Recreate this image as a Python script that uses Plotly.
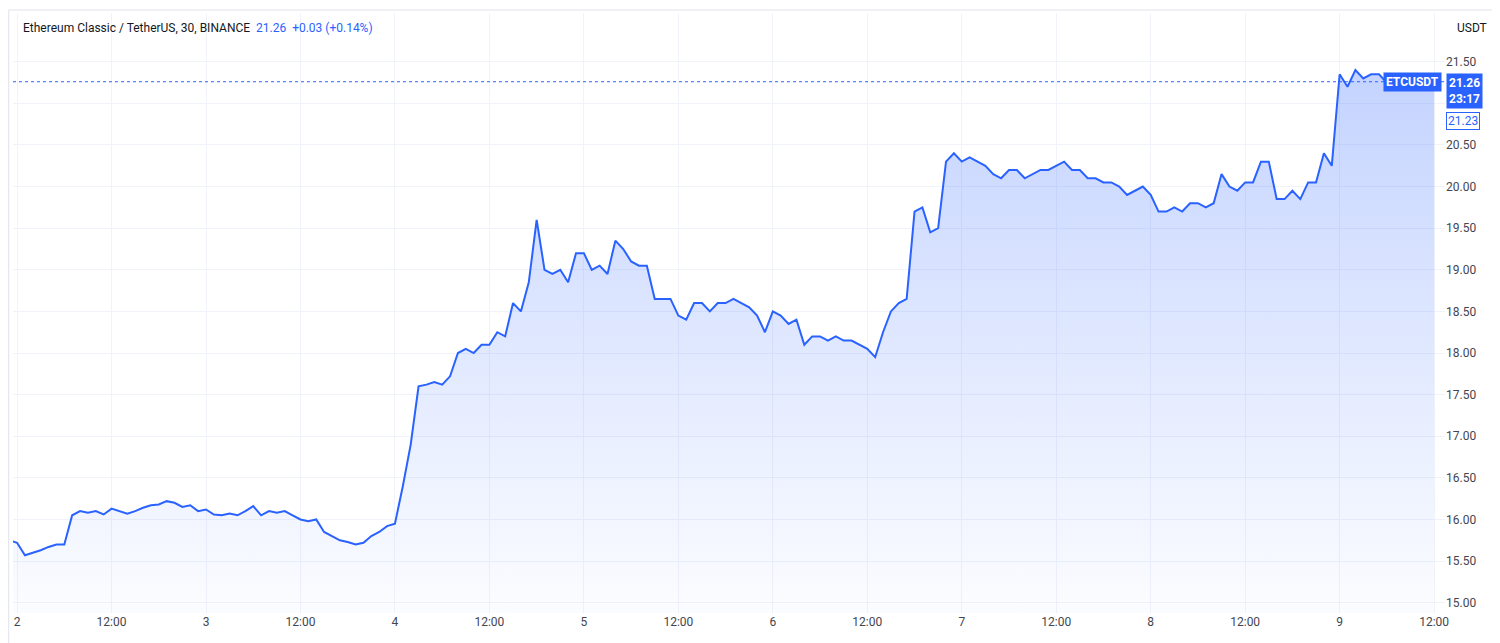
import plotly.graph_objects as go
import pandas as pd

start = pd.Timestamp("2022-08-01 23:00")
prices = [15.75,
 15.72,15.57,15.60,15.63,15.67,15.70,15.70,16.05,16.10,16.08,16.10,16.06,16.13,16.10,16.07,16.10,16.14,16.17,16.18,16.22,16.20,16.15,16.17,16.10,
 16.12,16.06,16.05,16.07,16.05,16.10,16.16,16.05,16.10,16.08,16.10,16.05,16.00,15.98,16.00,15.85,15.80,15.75,15.73,15.70,15.72,15.80,15.85,15.92,
 15.95,16.40,16.90,17.60,17.62,17.65,17.62,17.72,18.00,18.05,18.00,18.10,18.10,18.25,18.20,18.60,18.50,18.85,19.60,19.00,18.95,19.00,18.85,19.20,
 19.20,19.00,19.05,18.95,19.35,19.25,19.10,19.05,19.05,18.65,18.65,18.65,18.45,18.40,18.60,18.60,18.50,18.60,18.60,18.65,18.60,18.55,18.45,18.25,
 18.50,18.45,18.35,18.40,18.10,18.20,18.20,18.15,18.20,18.15,18.15,18.10,18.05,17.95,18.25,18.50,18.60,18.65,19.70,19.75,19.45,19.50,20.30,20.40,
 20.30,20.35,20.30,20.25,20.15,20.10,20.20,20.20,20.10,20.15,20.20,20.20,20.25,20.30,20.20,20.20,20.10,20.10,20.05,20.05,20.00,19.90,19.95,20.00,
 19.90,19.70,19.70,19.75,19.70,19.80,19.80,19.75,19.80,20.15,20.00,19.95,20.05,20.05,20.30,20.30,19.85,19.85,19.95,19.85,20.05,20.05,20.40,20.25,
 21.35,21.20,21.40,21.30,21.35,21.35,21.25,21.20,21.22,21.20,21.20,21.23,21.26]
times = pd.date_range(start, periods=len(prices), freq="h")

day_labels = ["2", "12:00", "3", "12:00", "4", "12:00", "5", "12:00", "6", "12:00", "7", "12:00", "8", "12:00", "9", "12:00"]
tick_times = pd.date_range("2022-08-02", periods=len(day_labels), freq="12h")
y_ticks = [15.0 + 0.5 * i for i in range(14)]
last_price = 21.26

blue = "#2962FF"
fig = go.Figure()
fig.add_trace(go.Scatter(
    x=times, y=prices, mode="lines", line=dict(color=blue, width=2),
    fill="tozeroy",
    fillgradient=dict(type="vertical", start=15.0, stop=21.5,
                      colorscale=[[0, "rgba(41,98,255,0.02)"], [1, "rgba(41,98,255,0.28)"]]),
    hoverinfo="skip"))

fig.add_shape(type="line", xref="paper", x0=0, x1=1, yref="y", y0=last_price, y1=last_price,
              line=dict(color=blue, width=1, dash="dot"))

fig.update_layout(
    width=1500, height=643, showlegend=False,
    margin=dict(l=5, r=63, t=5, b=38),
    paper_bgcolor="white", plot_bgcolor="white",
    font=dict(family="Roboto, Arial", size=12, color="#131722"),
    xaxis=dict(range=[pd.Timestamp("2022-08-01 23:29"), pd.Timestamp("2022-08-09 13:23")],
               tickvals=tick_times, ticktext=day_labels, showgrid=True, gridcolor="#f0f3fa",
               zeroline=False, showline=False, ticks="", tickfont=dict(size=12, color="#434651")),
    yaxis=dict(side="right", range=[14.876, 22.086], tickvals=y_ticks,
               ticktext=["" if v == 21.0 else f"{v:.2f}" for v in y_ticks], showgrid=True, gridcolor="#f0f3fa",
               zeroline=False, showline=False, ticks="", tickfont=dict(size=12, color="#434651")),
)

fig.add_annotation(xref="paper", yref="paper", x=0.0, y=1.0, xanchor="left", yanchor="top",
                   xshift=8, yshift=-6, showarrow=False,
                   text="Ethereum Classic / TetherUS, 30, BINANCE  <span style='color:#2962FF'>21.26  +0.03 (+0.14%)</span>",
                   font=dict(size=12, color="#131722"))
fig.add_annotation(xref="paper", yref="paper", x=1.0, y=1.0, xanchor="left", yanchor="top",
                   xshift=10, yshift=-6, showarrow=False, text="USDT",
                   font=dict(size=12, color="#131722"))
fig.add_annotation(xref="paper", yref="y", x=1.0, y=last_price, xanchor="right", yanchor="middle",
                   xshift=-3, showarrow=False, text="<b>ETCUSDT</b>", bgcolor=blue,
                   font=dict(size=12, color="white"), borderpad=2)
fig.add_annotation(xref="paper", yref="y", x=1.0, y=last_price, xanchor="left", yanchor="top",
                   xshift=1, yshift=9, showarrow=False, text="<b>21.26</b><br><b>23:17</b>",
                   bgcolor=blue, font=dict(size=12, color="white"), borderpad=2, align="left")
fig.add_annotation(xref="paper", yref="y", x=1.0, y=last_price, xanchor="left", yanchor="top",
                   xshift=1, yshift=-30, showarrow=False, text="21.23",
                   bgcolor="white", bordercolor=blue, borderwidth=1,
                   font=dict(size=12, color=blue), borderpad=1)
fig.add_shape(type="rect", xref="paper", yref="paper", x0=-0.003, x1=1.045, y0=-0.065, y1=1.005,
              line=dict(color="#e0e3eb", width=1), fillcolor="rgba(0,0,0,0)", layer="below")

fig.write_html("out.html")
